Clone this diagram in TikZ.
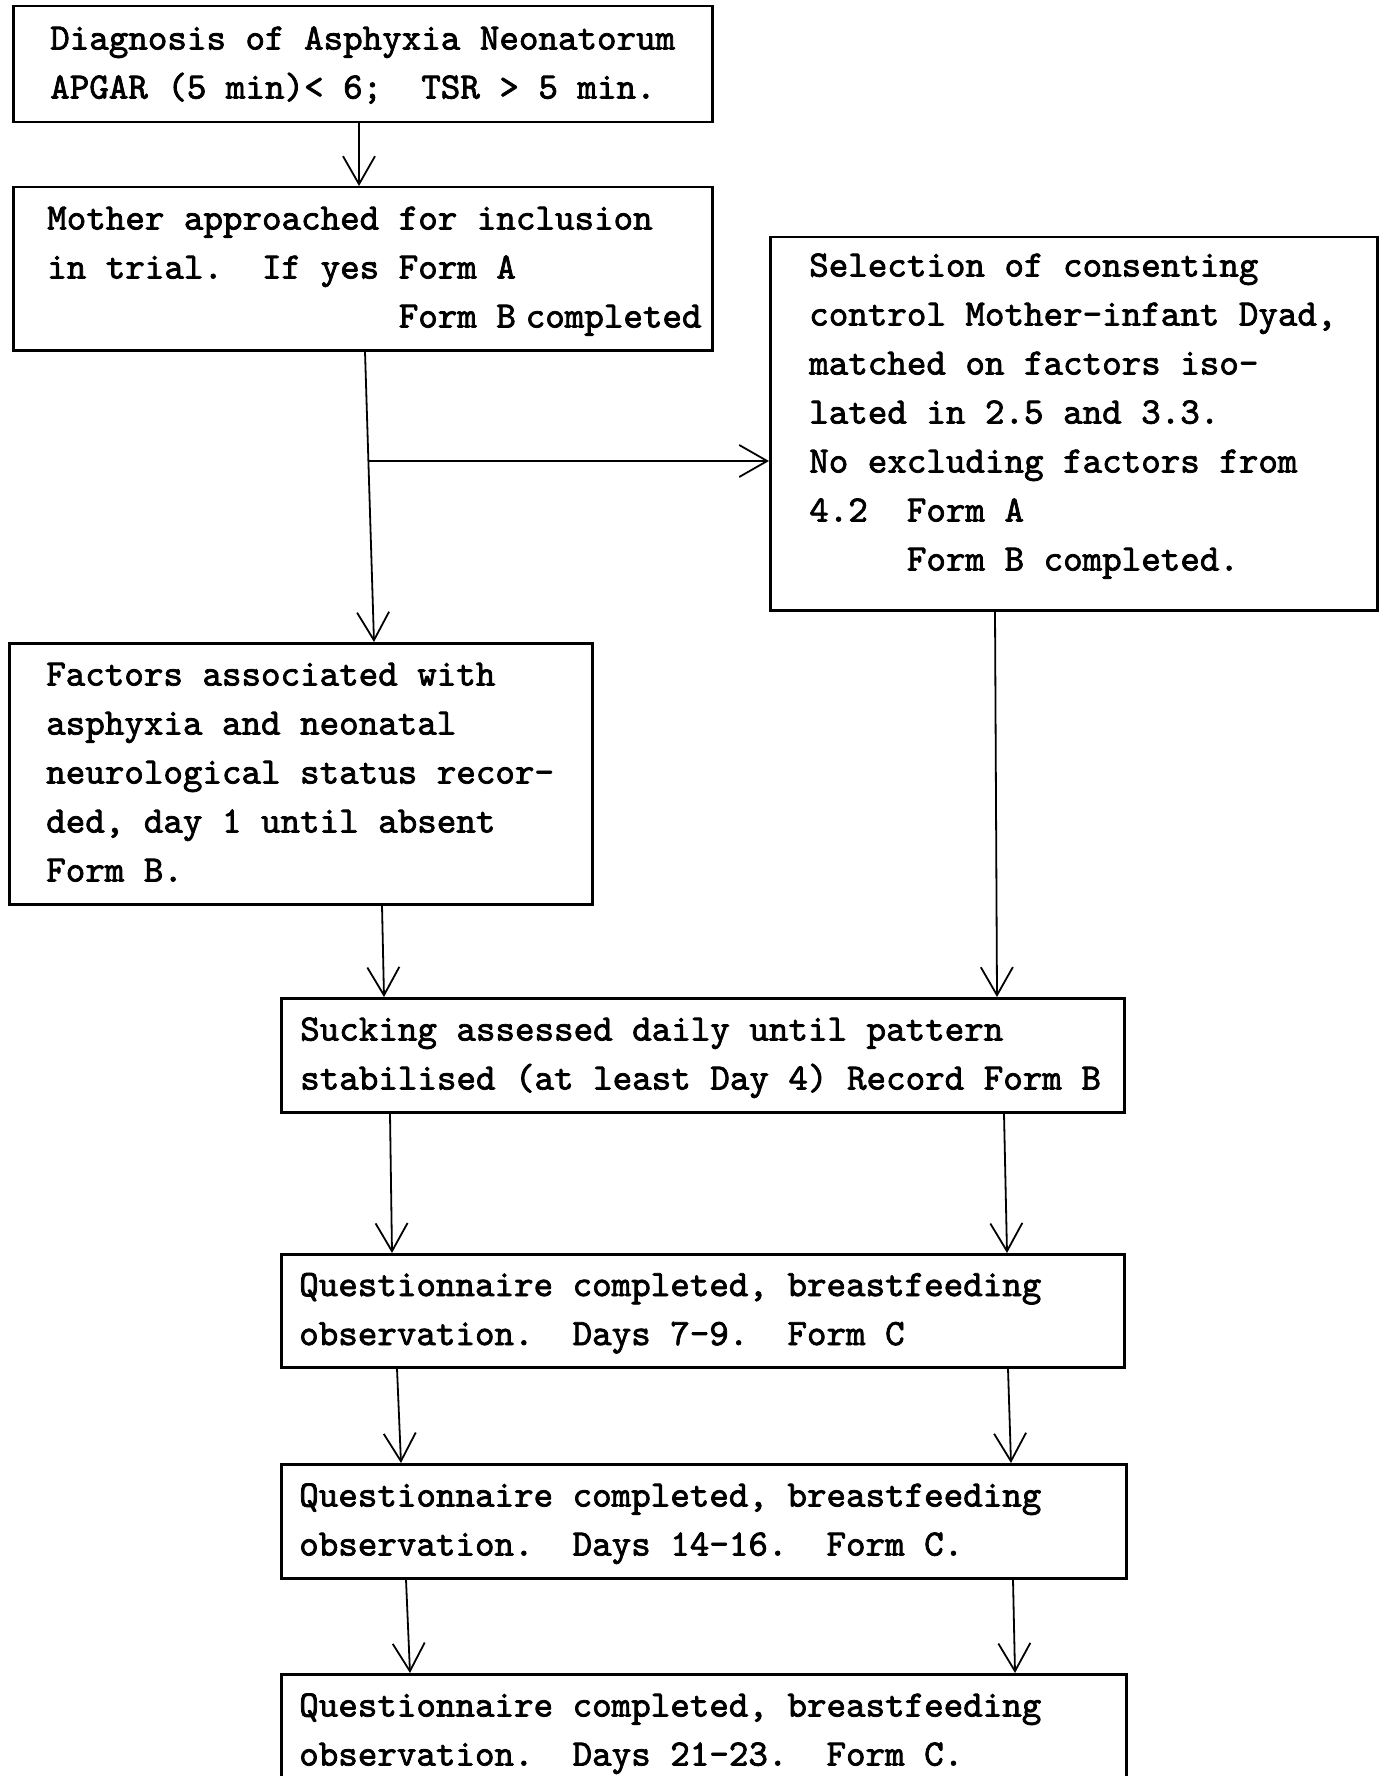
\documentclass[tikz,border=0pt]{standalone}
\usepackage{fontspec}
\setmonofont[FakeBold=2]{lmmono10-regular.otf}
\usetikzlibrary{arrows.meta}

\newcommand\evenspaces{\spaceskip=0.525em\relax}
\newcommand\typed[1]{\evenspaces\begin{tabular}{@{}l@{}}#1\end{tabular}}

\begin{document}
\begin{tikzpicture}[x=0.5pt, y=-0.5pt,
    every node/.style={draw, line width=1.25pt, anchor=north west, align=left,
        font=\ttfamily\fontsize{18.6pt}{24.5pt}\selectfont\frenchspacing},
    arr/.style={line width=0.9pt, -{Straight Barb[length=14pt, width=16pt]}}]
    \useasboundingbox (0,0) rectangle (1381,1776);

    % Cases
    \node[text width=312.5pt, inner xsep=18.5pt, minimum height=58pt] (diag) at (12,5)
        {\typed{Diagnosis of Asphyxia Neonatorum\\APGAR (5 min)< 6;~~TSR > 5 min.}};
    \node[text width=315.5pt, inner xsep=17pt, minimum height=81.5pt] (mother) at (12,186)
        {\typed{Mother approached for inclusion\\in trial.~~If yes Form A\\
         \phantom{in trial.~~If yes~}Form B\hspace{4.9pt}completed}};
    \node[text width=254.5pt, inner xsep=18.5pt, minimum height=130.5pt] (factors) at (8,642)
        {\typed{Factors associated with\\asphyxia and neonatal\\neurological status recor-\\ded, day 1 until absent\\Form B.}};

    % Controls
    \node[text width=264.5pt, inner xsep=19.5pt, inner ysep=2pt, minimum height=186.5pt] (control) at (769,236)
        {\typed{Selection of consenting\\control Mother-infant Dyad,\\matched on factors iso-\\lated in 2.5 and 3.3.\\
         No excluding factors from\\4.2~~Form A\\\phantom{4.2~~}Form B completed.\\[10pt]}};

    % Follow-up
    \node[text width=402.5pt, inner xsep=9.5pt, minimum height=57pt] (suck) at (280,997)
        {\typed{Sucking assessed daily until pattern\\stabilised (at least Day 4) Record Form B}};
    \node[text width=403.5pt, inner xsep=9pt, minimum height=56.5pt] (week1) at (280,1253)
        {\typed{Questionnaire completed, breastfeeding\\observation.~~Days 7-9.~~Form C}};
    \node[text width=404.5pt, inner xsep=9pt, minimum height=57pt] (week2) at (280,1463)
        {\typed{Questionnaire completed, breastfeeding\\observation.~~Days 14-16.~~Form C.}};
    \node[text width=404.5pt, inner xsep=9pt, minimum height=57pt] (week3) at (280,1673)
        {\typed{Questionnaire completed, breastfeeding\\observation.~~Days 21-23.~~Form C.}};

    % Connections
    \draw[arr] (diag.south -| 359,0) -- (mother.north -| 359,0);
    \draw[arr] (mother.south -| 365,0) -- (factors.north -| 374,0);
    \coordinate (split) at (368,461);
    \draw[arr] (split) -- (split -| control.west);
    \draw[arr] (factors.south -| 382,0) -- (suck.north -| 384,0);
    \draw[arr] (control.south -| 995,0) -- (suck.north -| 997,0);

    \foreach \a/\b/\xl/\yl/\xr/\yr in {suck/week1/390/392/1004/1007,
                                      week1/week2/397/401/1008/1011,
                                      week2/week3/406/410/1013/1015} {
        \draw[arr] (\a.south -| \xl,0) -- (\b.north -| \yl,0);
        \draw[arr] (\a.south -| \xr,0) -- (\b.north -| \yr,0);
    }
\end{tikzpicture}
\end{document}
